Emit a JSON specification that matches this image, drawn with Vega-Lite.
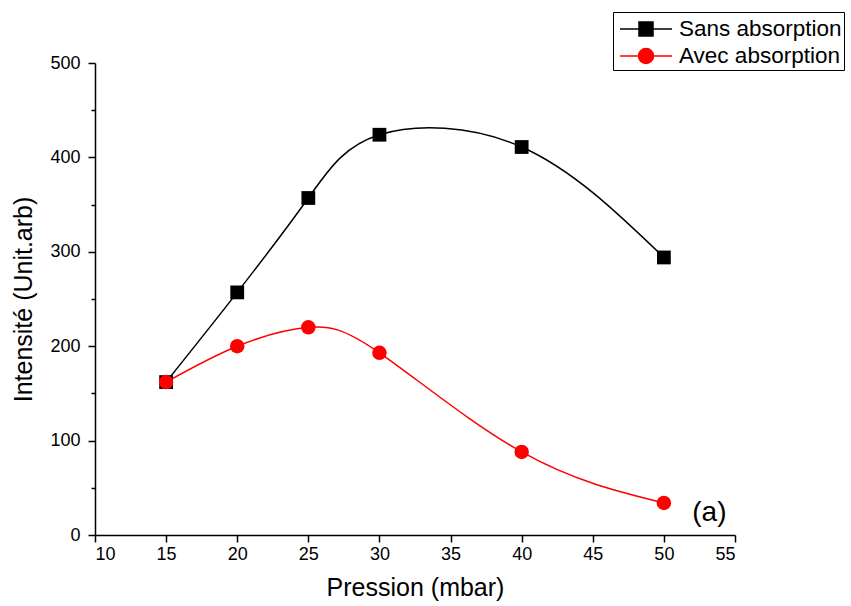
{
  "$schema": "https://vega.github.io/schema/vega-lite/v6.json",
  "width": 640,
  "height": 472,
  "autosize": {"type": "none"},
  "padding": {"left": 95, "top": 63, "right": 116, "bottom": 71},
  "background": "white",
  "config": {
    "view": {"stroke": null},
    "font": "Liberation Sans",
    "axis": {"grid": false, "domainColor": "black", "tickColor": "black", "domainWidth": 1.5, "tickWidth": 1.5, "labelColor": "black", "titleColor": "black", "labelFont": "Liberation Sans", "titleFont": "Liberation Sans", "titleFontWeight": "normal", "labelFontSize": 18, "titleFontSize": 25}
  },
  "datasets": {
    "main": [
      {"p": 15, "i": 162, "series": "Sans absorption"},
      {"p": 20, "i": 257, "series": "Sans absorption"},
      {"p": 25, "i": 357, "series": "Sans absorption"},
      {"p": 30, "i": 424, "series": "Sans absorption"},
      {"p": 40, "i": 411, "series": "Sans absorption"},
      {"p": 50, "i": 294, "series": "Sans absorption"},
      {"p": 15, "i": 162, "series": "Avec absorption"},
      {"p": 20, "i": 200, "series": "Avec absorption"},
      {"p": 25, "i": 220, "series": "Avec absorption"},
      {"p": 30, "i": 193, "series": "Avec absorption"},
      {"p": 40, "i": 88, "series": "Avec absorption"},
      {"p": 50, "i": 34, "series": "Avec absorption"}
    ],
    "label": [{"p": 53.2, "i": 23.3, "t": "(a)"}]
  },
  "data": {"name": "main"},
  "layer": [
    {
      "mark": {"type": "line", "interpolate": "natural", "strokeWidth": 1.5},
      "encoding": {
        "x": {"field": "p", "type": "quantitative", "scale": {"domain": [10, 55], "nice": false, "zero": false},
              "axis": {"values": [10, 12.5, 15, 17.5, 20, 22.5, 25, 27.5, 30, 32.5, 35, 37.5, 40, 42.5, 45, 47.5, 50, 52.5, 55],
                       "labelExpr": "datum.value % 5 === 0 ? datum.label : ''",
                       "tickSize": {"condition": {"test": "datum.value % 5 === 0", "value": 7}, "value": 4},
                       "labelPadding": 3, "title": "Pression (mbar)", "titlePadding": 12}},
        "y": {"field": "i", "type": "quantitative", "scale": {"domain": [0, 500], "nice": false},
              "axis": {"values": [0, 50, 100, 150, 200, 250, 300, 350, 400, 450, 500],
                       "labelExpr": "datum.value % 100 === 0 ? datum.label : ''",
                       "tickSize": {"condition": {"test": "datum.value % 100 === 0", "value": 7}, "value": 4},
                       "labelPadding": 8, "title": "Intensité (Unit.arb)", "titlePadding": 13}},
        "color": {"field": "series", "type": "nominal", "title": null,
                  "scale": {"domain": ["Sans absorption", "Avec absorption"], "range": ["black", "#ff0000"]},
                  "legend": {"orient": "none", "legendX": 518, "legendY": -51, "strokeColor": "black", "padding": 2,
                             "labelFontSize": 22.5, "labelFont": "Liberation Sans", "labelColor": "black", "labelOffset": 34, "labelLimit": 0, "rowPadding": 0,
                             "symbolSize": 784, "symbolStrokeWidth": 1.5,
                             "encode": {"symbols": {"update": {
                               "shape": {"signal": "datum.value === 'Sans absorption' ? 'M-0.714,0H0.643M1.643,0H3M0.643,-0.5H1.643V0.5H0.643Z' : 'M-0.714,0H0.607M1.679,0H3M0.607,0A0.536,0.536 0 1,0 1.679,0A0.536,0.536 0 1,0 0.607,0Z'"},
                               "fill": {"signal": "datum.value === 'Sans absorption' ? 'black' : '#ff0000'"},
                               "stroke": {"signal": "datum.value === 'Sans absorption' ? 'black' : '#ff0000'"}
                             }}}}},
        "detail": {"field": "series"}
      }
    },
    {
      "transform": [{"filter": "datum.series == 'Sans absorption'"}],
      "mark": {"type": "point", "shape": "square", "filled": true, "size": 190, "opacity": 1, "color": "black"},
      "encoding": {
        "x": {"field": "p", "type": "quantitative"},
        "y": {"field": "i", "type": "quantitative"}
      }
    },
    {
      "transform": [{"filter": "datum.series == 'Avec absorption'"}],
      "mark": {"type": "point", "shape": "circle", "filled": true, "size": 210, "opacity": 1, "color": "#ff0000"},
      "encoding": {
        "x": {"field": "p", "type": "quantitative"},
        "y": {"field": "i", "type": "quantitative"}
      }
    },
    {
      "data": {"name": "label"},
      "mark": {"type": "text", "fontSize": 28, "font": "Liberation Sans", "color": "black", "align": "center", "baseline": "middle"},
      "encoding": {
        "x": {"field": "p", "type": "quantitative"},
        "y": {"field": "i", "type": "quantitative"},
        "text": {"field": "t"}
      }
    }
  ]
}
